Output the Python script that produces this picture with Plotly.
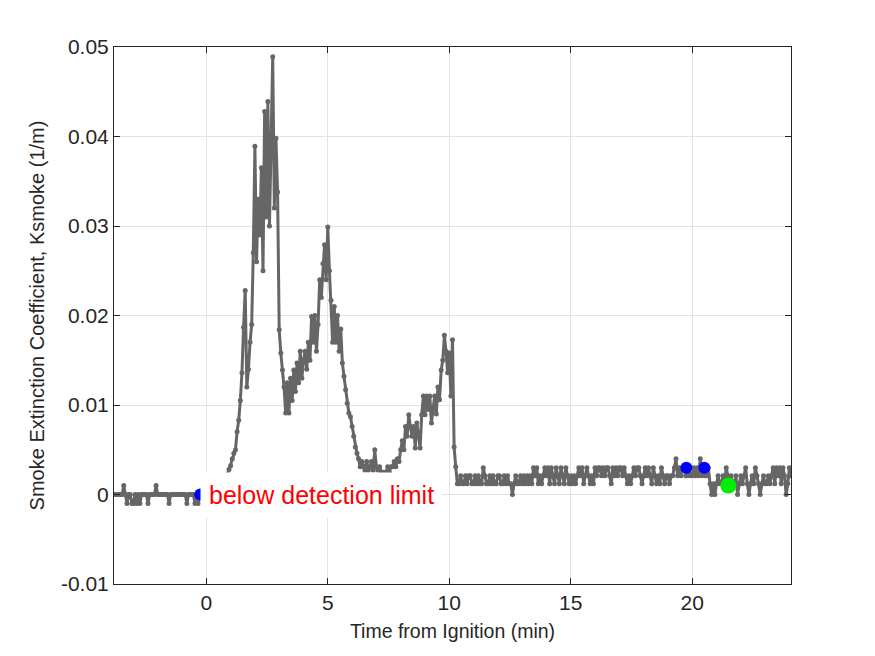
import numpy as np
import plotly.graph_objects as go

# ---- data (values in units of 1e-3 1/m), sampled every 4 s starting at -3.8 min ----
T_START_MIN = -3.8
SAMPLE_S = 4.0
UNIT = 1e-3

pre_ignition = [0, 0, 0, 0, 0, 0, 1, 0, -1, 0, 0, -1, -1, 0, -1, 0, -1, 0, 0, 0, 0,
                -1, 0, 0, 0, 0, 1, 0, 0, 0, 0, 0, 0, 0, -1, 0, 0, 0, 0, 0, 0, 0, 0,
                0, 0, -1, 0, 0, 0, 0, -1, 0, -1, 0, 0, 0, 0, 0, 0, 0, 0, 0, 0, 0, 0,
                0.5, 1, 1, 1.5, 2, 2.2]
first_peak = [2.8, 3.2, 4.0, 4.6, 5.0, 7.0, 8.3, 10.5, 13.6, 18.7,
              22.8, 12.0, 14.0, 17.0, 19.0, 27.0, 38.9, 26.0, 33.0, 29.0,
              36.5, 25.0, 42.8, 31.0, 43.9, 30.0, 38.0, 48.9, 32.0, 39.8, 33.8]
second_peak = [18.4, 15.8, 13.9, 12.0, 9.1, 12.5, 9.1, 13.0, 10.5, 13.9,
               11.5, 14.7, 12.5, 16.0, 13.0, 15.0, 16.0, 14.0, 17.0, 15.0,
               19.9, 17.0, 20.0, 16.0, 19.0, 24.0, 22.0, 25.8, 27.9, 24.0,
               29.9, 25.0, 21.7, 17.0, 21.0, 17.0, 20.0, 16.0, 18.5]
decay = [14.7, 13.2, 11.7, 10.2, 9.1, 8.7, 7.6, 6.5, 5.3, 4.6, 4.0, 3.1, 3.7, 3.1, 2.7]
trough = [3.7, 2.7, 3.1, 3.7, 2.7, 5.0, 3.1, 2.7, 3.1, 2.5, 2.5, 2.5, 2.5, 3.1, 2.5,
          3.1, 3.1, 3.7, 3.1, 4.0, 3.7]
third_peak = [5.0, 6.0, 5.0, 7.6, 6.5, 8.9, 7.6, 6.5, 7.6, 5.2, 8.0, 6.5, 5.2, 8.9, 11.0,
              8.9, 11.0, 9.5, 11.0, 8.0, 9.5, 11.0, 9.0, 12.0, 10.6, 13.9, 15.0, 17.8,
              16.0, 13.6, 15.8, 11.0, 17.3, 5.3, 3.1, 1.2]
tail_a = [1.2, 2.1, 1.2, 1.2, 2.1, 1.2, 2.1, 2.1, 1.2, 1.2, 2.1, 1.2, 2.1, 1.2, 1.2,
          3.0,
          2.1, 1.2, 1.2, 2.1, 1.2, 2.1, 1.2, 1.2, 2.1, 2.1, 1.2, 1.2, 2.1, 1.2, 2.1, 1.2, 1.2,
          0.0,
          1.2, 2.1, 1.2, 1.2, 2.1, 1.2, 2.1, 1.2, 2.1, 1.2]
tail_b = [2.1, 1.2, 3.0, 2.1, 3.0, 1.2, 2.1, 1.2, 2.1, 3.0, 2.1, 3.0, 1.2, 3.0, 2.1,
          1.2, 3.0, 2.1, 1.2, 3.0, 2.1, 1.2, 3.0, 2.1, 1.2, 2.1, 1.2, 2.1, 1.2, 2.1,
          3.0, 2.1, 3.0, 1.2, 2.1, 3.0, 2.1, 1.2, 2.1, 1.2,
          3.0, 2.1, 3.0, 3.0, 2.1, 3.0, 2.1, 3.0, 3.0, 2.1, 1.2, 3.0, 2.1, 3.0, 2.1,
          3.0, 3.0, 2.1, 3.0, 2.1, 1.2, 2.1,
          1.2, 2.1,
          3.0, 2.1, 3.0, 3.0, 2.1, 1.2,
          2.1,
          3.0, 2.1, 3.0, 2.1, 1.2, 3.0, 2.1,
          1.2, 2.1, 1.2,
          3.0, 2.1, 1.2, 2.1, 2.1, 1.2, 2.1, 2.1, 3.0]
tail_c = [4.0, 2.1, 3.0, 2.1, 3.0, 3.0, 2.1, 2.1, 3.0, 2.1, 2.1, 3.0, 2.1, 3.0, 2.1,
          4.0, 2.1, 3.0, 2.1, 2.1, 3.0]
tail_d = [1.2, 0.0, 1.2, 0.0, 1.2, 2.1, 1.2, 1.2, 2.1, 1.2, 3.0, 2.1, 1.2, 2.1, 1.2,
          1.2, 2.1, 0.0, 1.2, 2.1, 1.2, 2.1, 3.0, 1.2, 0.0, 1.2, 2.1, 1.2, 3.0, 2.1,
          1.2, 0.0, 1.2, 2.1, 1.2, 1.2, 2.1, 1.2, 2.1, 3.0, 1.2, 3.0, 2.1, 3.0, 1.2,
          3.0, 2.1, 0.0, 1.2, 3.0, 2.1]

# event markers
blue_t = [-0.25, 19.76, 20.5]
blue_k = [0.0, 0.003, 0.003]
green_t = [21.49]
green_k = [0.001]

x_ticks = [0, 5, 10, 15, 20]
y_ticks = [-0.01, 0, 0.01, 0.02, 0.03, 0.04, 0.05]
y_tick_text = ["-0.01", "0", "0.01", "0.02", "0.03", "0.04", "0.05"]

series = (pre_ignition + first_peak + second_peak + decay + trough + third_peak
          + tail_a + tail_b + tail_c + tail_d)
ksmoke = np.array(series) * UNIT
t = T_START_MIN + np.arange(len(ksmoke)) * SAMPLE_S / 60.0

GRAY = "#666666"
AX = "#262626"
FONT = "Liberation Sans, Arial, Helvetica, sans-serif"

fig = go.Figure()
fig.add_trace(go.Scatter(x=t, y=ksmoke, mode="lines+markers",
                         line=dict(color=GRAY, width=3),
                         marker=dict(color=GRAY, size=5),
                         showlegend=False, hoverinfo="x+y"))
fig.add_trace(go.Scatter(x=blue_t, y=blue_k, mode="markers",
                         marker=dict(color="#0000ff", size=12),
                         showlegend=False))
fig.add_trace(go.Scatter(x=green_t, y=green_k, mode="markers",
                         marker=dict(color="#00ee00", size=16),
                         showlegend=False))

fig.add_annotation(x=-0.27, y=0, xref="x", yref="y", xanchor="left", yanchor="middle",
                   text="below detection limit", showarrow=False,
                   font=dict(color="#ff0000", size=25, family=FONT),
                   bgcolor="white", borderpad=8)

fig.update_layout(
    width=875, height=656,
    margin=dict(l=114, r=84, t=47, b=72),
    paper_bgcolor="white", plot_bgcolor="white",
    font=dict(family=FONT, color=AX),
)
fig.update_xaxes(range=[t[0], t[-1]], tickvals=x_ticks,
                 ticks="inside", ticklen=6, tickcolor=AX, tickwidth=1,
                 showline=True, linecolor=AX, linewidth=1, mirror="ticks",
                 showgrid=True, gridcolor="#e3e3e3", gridwidth=1, zeroline=False,
                 tickfont=dict(size=21, color=AX),
                 title=dict(text="Time from Ignition (min)", font=dict(size=19.5, color=AX),
                            standoff=11))
fig.update_yaxes(range=[-0.01, 0.05], tickvals=y_ticks, ticktext=y_tick_text,
                 ticks="inside", ticklen=6, tickcolor=AX, tickwidth=1,
                 showline=True, linecolor=AX, linewidth=1, mirror="ticks",
                 showgrid=True, gridcolor="#e3e3e3", gridwidth=1, zeroline=False,
                 tickfont=dict(size=21, color=AX),
                 title=dict(text="Smoke Extinction Coefficient, Ksmoke (1/m)",
                            font=dict(size=20, color=AX), standoff=10))

fig.write_html("out.html")
